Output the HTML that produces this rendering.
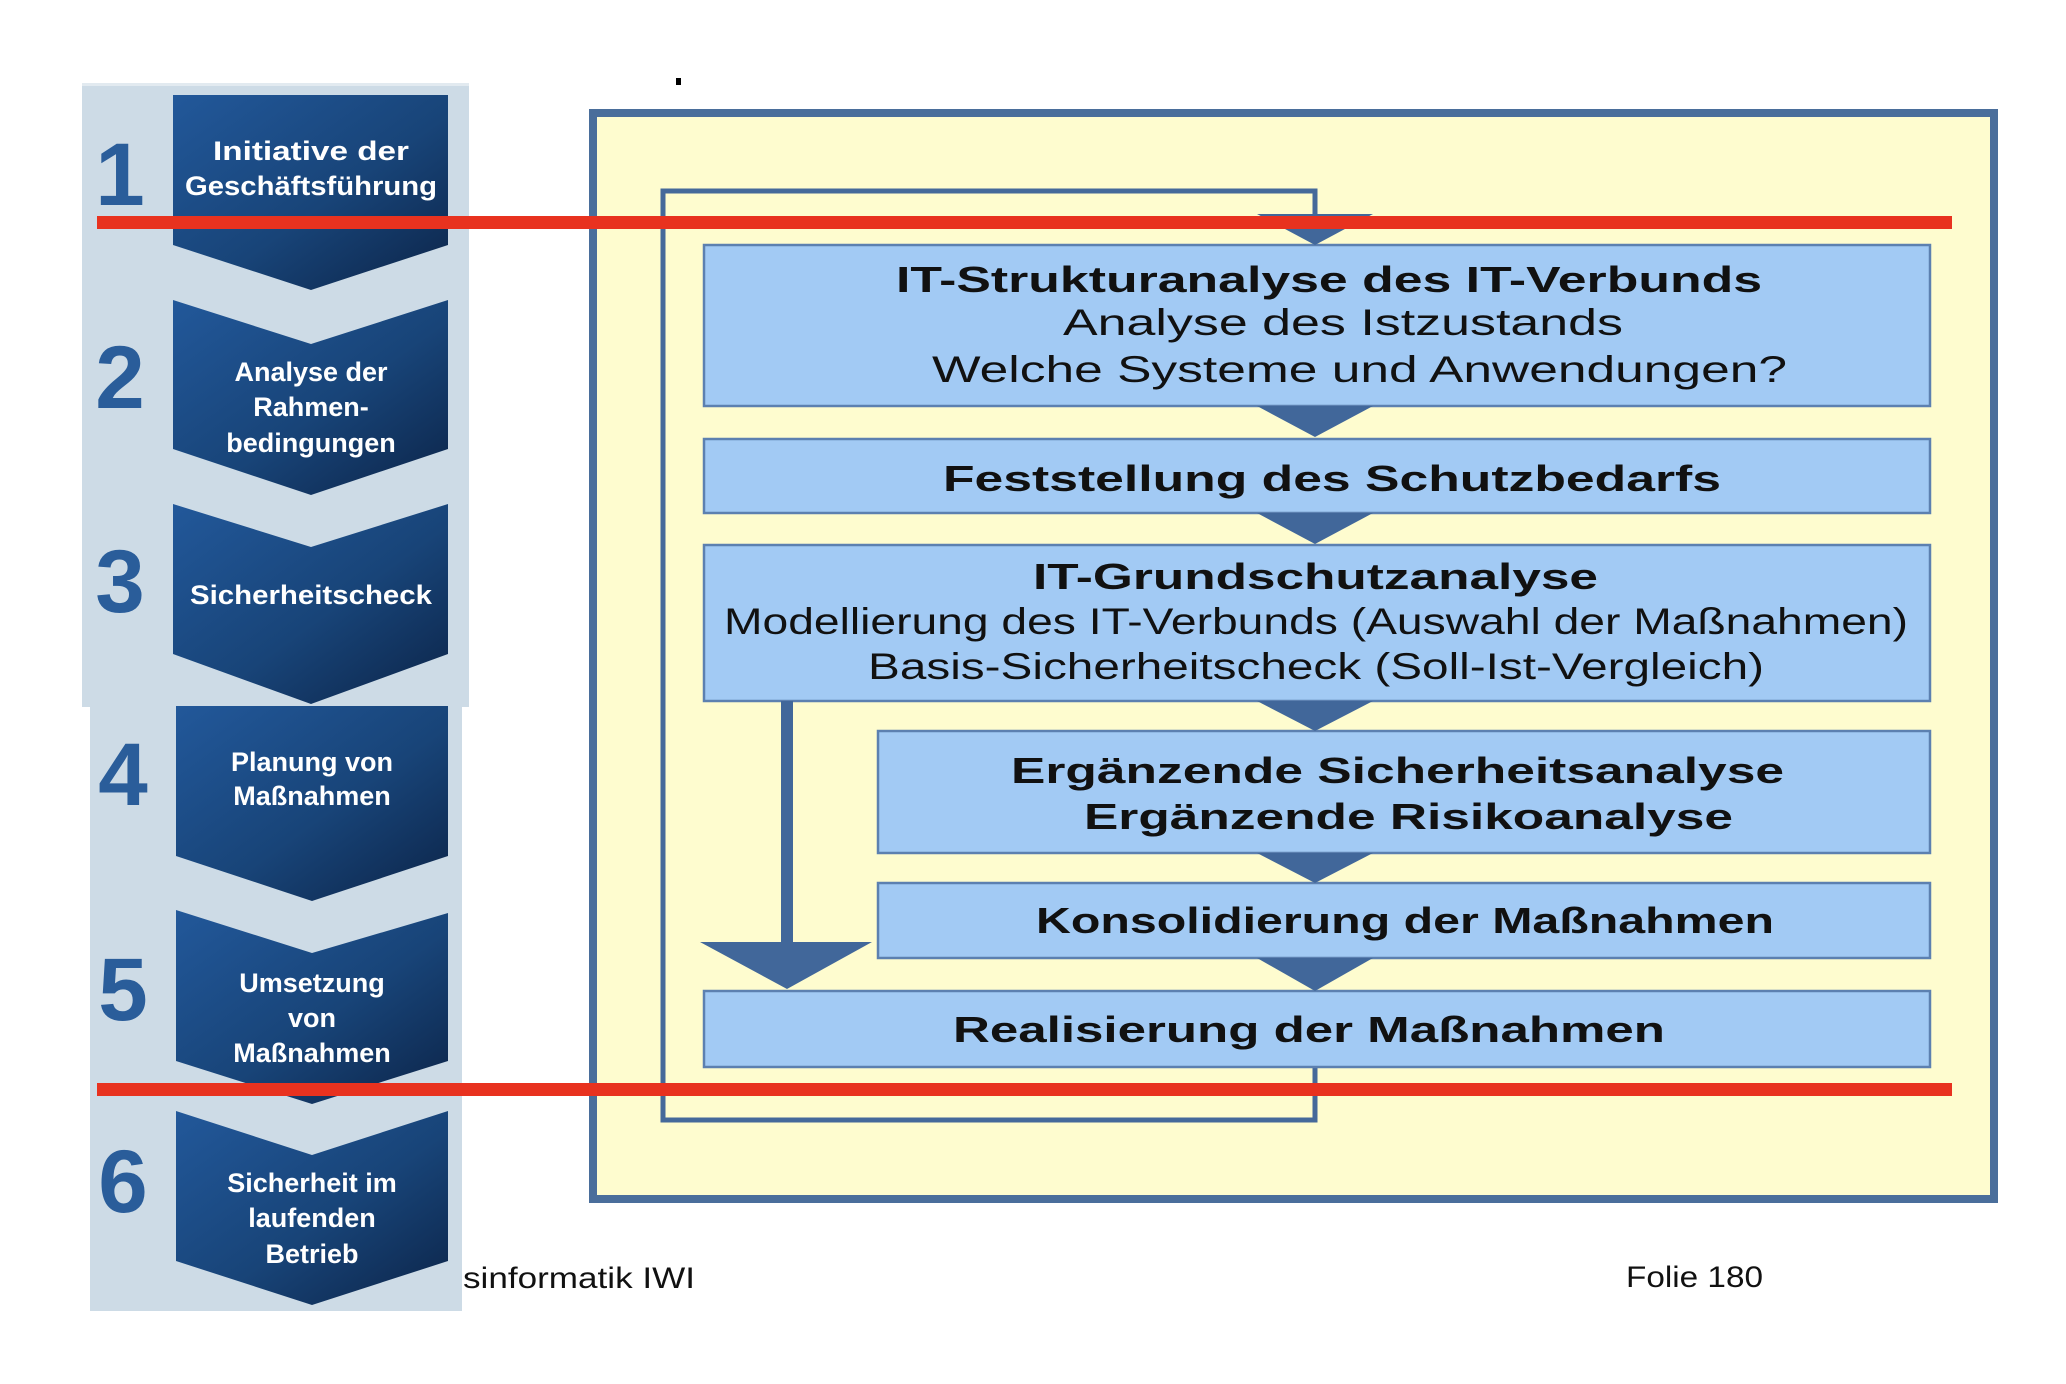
<!DOCTYPE html>
<html><head><meta charset="utf-8"><style>
html,body{margin:0;padding:0;background:#fff;}
svg{display:block;}
text{font-family:"Liberation Sans",Arial,sans-serif;}
</style></head><body>
<svg width="2066" height="1384" viewBox="0 0 2066 1384" xmlns="http://www.w3.org/2000/svg">
<defs>
<linearGradient id="cg" x1="0" y1="0" x2="1" y2="1">
<stop offset="0" stop-color="#22589a"/><stop offset="0.55" stop-color="#184478"/><stop offset="1" stop-color="#0c2448"/>
</linearGradient>
</defs>
<rect width="2066" height="1384" fill="#fff"/>
<text x="463" y="1288" font-size="30" fill="#111" textLength="232" lengthAdjust="spacingAndGlyphs">sinformatik IWI</text>
<text x="1626" y="1287" font-size="30" fill="#111" textLength="137" lengthAdjust="spacingAndGlyphs">Folie 180</text>
<rect x="676" y="78" width="5" height="7" fill="#000"/>

<rect x="82" y="83" width="387" height="624" fill="#cddbe6"/>
<rect x="90" y="707" width="372" height="604" fill="#cddbe6"/>
<rect x="82" y="83" width="387" height="3" fill="#e2eaf0"/>

<g fill="url(#cg)">
<polygon points="173,95 448,95 448,245 311,290 173,245"/>
<polygon points="173,300 311,344 448,300 448,449 311,495 173,449"/>
<polygon points="173,504 311,547 448,504 448,654 311,704 173,654"/>
<polygon points="176,706 448,706 448,856 312,901 176,856"/>
<polygon points="176,910 312,953 448,913 448,1061 312,1104 176,1061"/>
<polygon points="176,1111 312,1155 448,1111 448,1261 312,1305 176,1261"/>
</g>
<g fill="#fff" font-weight="bold" font-size="27" text-anchor="middle">
<text x="311" y="160" textLength="196" lengthAdjust="spacingAndGlyphs">Initiative der</text>
<text x="311" y="195" textLength="252" lengthAdjust="spacingAndGlyphs">Geschäftsführung</text>
<text x="311" y="381">Analyse der</text>
<text x="311" y="416">Rahmen-</text>
<text x="311" y="452">bedingungen</text>
<text x="311" y="604" textLength="242" lengthAdjust="spacingAndGlyphs">Sicherheitscheck</text>
<text x="312" y="771">Planung von</text>
<text x="312" y="805">Maßnahmen</text>
<text x="312" y="992">Umsetzung</text>
<text x="312" y="1027">von</text>
<text x="312" y="1062">Maßnahmen</text>
<text x="312" y="1192">Sicherheit im</text>
<text x="312" y="1227">laufenden</text>
<text x="312" y="1263">Betrieb</text>
</g>
<g fill="#2a5d9a" font-weight="bold" font-size="89" text-anchor="middle">
<text x="120" y="205">1</text>
<text x="120" y="408">2</text>
<text x="120" y="612">3</text>
<text x="123" y="805">4</text>
<text x="123" y="1020">5</text>
<text x="123" y="1212">6</text>
</g>

<rect x="593" y="113" width="1401" height="1086" fill="#fefccf" stroke="#4a6e9b" stroke-width="8"/>
<polyline points="1315,1067 1315,1120 663,1120 663,191 1315,191 1315,214" fill="none" stroke="#45699a" stroke-width="5"/>

<g fill="#a2caf4" stroke="#5c80b0" stroke-width="2.5">
<rect x="704" y="245" width="1226" height="161"/>
<rect x="704" y="439" width="1226" height="74"/>
<rect x="704" y="545" width="1226" height="156"/>
<rect x="878" y="731" width="1052" height="122"/>
<rect x="878" y="883" width="1052" height="75"/>
<rect x="704" y="991" width="1226" height="76"/>
</g>

<g fill="#41679a">
<polygon points="1257,214 1373,214 1315,245"/>
<polygon points="1257,406 1373,406 1315,437"/>
<polygon points="1257,513 1373,513 1315,544"/>
<polygon points="1257,701 1373,701 1315,731"/>
<polygon points="1257,853 1373,853 1315,883"/>
<polygon points="1257,958 1373,958 1315,991"/>
<rect x="781" y="701" width="12" height="242"/>
<polygon points="700,942 872,942 787,989"/>
</g>

<g fill="#111" text-anchor="start">
<text x="896" y="292" font-size="36" font-weight="bold" textLength="866" lengthAdjust="spacingAndGlyphs">IT-Strukturanalyse des IT-Verbunds</text>
<text x="1063" y="335" font-size="37" textLength="560" lengthAdjust="spacingAndGlyphs">Analyse des Istzustands</text>
<text x="932" y="382" font-size="37" textLength="855" lengthAdjust="spacingAndGlyphs">Welche Systeme und Anwendungen?</text>
<text x="943" y="491" font-size="36" font-weight="bold" textLength="778" lengthAdjust="spacingAndGlyphs">Feststellung des Schutzbedarfs</text>
<text x="1033" y="589" font-size="36" font-weight="bold" textLength="565" lengthAdjust="spacingAndGlyphs">IT-Grundschutzanalyse</text>
<text x="724" y="634" font-size="37" textLength="1184" lengthAdjust="spacingAndGlyphs">Modellierung des IT-Verbunds (Auswahl der Maßnahmen)</text>
<text x="868" y="679" font-size="37" textLength="896" lengthAdjust="spacingAndGlyphs">Basis-Sicherheitscheck (Soll-Ist-Vergleich)</text>
<text x="1011" y="783" font-size="36" font-weight="bold" textLength="773" lengthAdjust="spacingAndGlyphs">Ergänzende Sicherheitsanalyse</text>
<text x="1084" y="829" font-size="36" font-weight="bold" textLength="649" lengthAdjust="spacingAndGlyphs">Ergänzende Risikoanalyse</text>
<text x="1036" y="933" font-size="36" font-weight="bold" textLength="738" lengthAdjust="spacingAndGlyphs">Konsolidierung der Maßnahmen</text>
<text x="953" y="1042" font-size="36" font-weight="bold" textLength="712" lengthAdjust="spacingAndGlyphs">Realisierung der Maßnahmen</text>
</g>

<rect x="97" y="216" width="1855" height="13" fill="#e8321f"/>
<rect x="97" y="1083" width="1855" height="13" fill="#e8321f"/>
</svg>
</body></html>
